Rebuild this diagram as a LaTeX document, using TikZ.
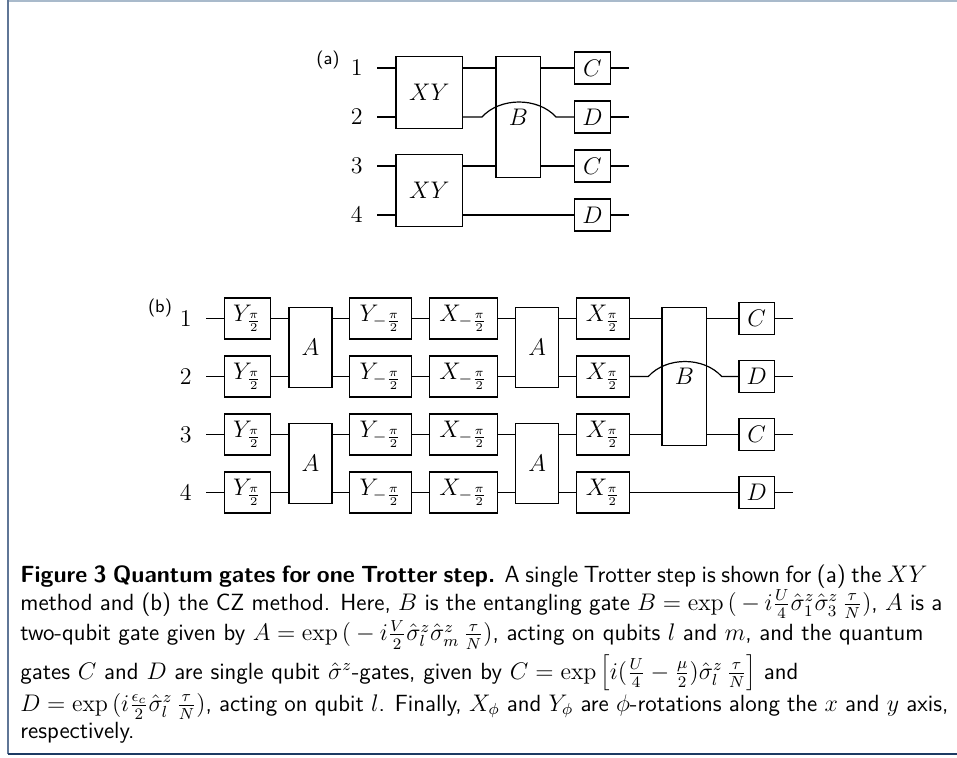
\documentclass[tikz,border=0pt]{standalone}

\definecolor{frametop}{HTML}{A9BACB}
\definecolor{frameleft}{HTML}{5F7696}
\definecolor{framebot}{HTML}{1C3A63}

\tikzset{
  wire/.style={line width=0.6pt},
  gate/.style={draw,line width=0.6pt,inner sep=0pt,font=\fontsize{12}{14}\selectfont},
  qlabel/.style={anchor=east,inner xsep=7pt,inner ysep=0pt,font=\fontsize{12}{14}\selectfont},
  tag/.style={font=\sffamily\small,inner sep=0pt},
  xygate/.style={gate,minimum width=33.3pt,minimum height=35.8pt},
  onegate/.style={gate,minimum width=17.7pt,minimum height=16pt},
  agate/.style={gate,minimum width=21.5pt,minimum height=40.2pt},
  rotgate/.style={gate,minimum height=20.5pt},
  capbox/.style={anchor=north west,align=left,inner sep=0pt,
    font=\sffamily\fontsize{11.7}{13.6}\selectfont},
}
% one caption line, set to the given width
\newcommand{\capline}[2]{\makebox[#1][s]{#2}}

\begin{document}
\begin{tikzpicture}[x=0.5pt,y=-0.5pt]
\useasboundingbox (0,0) rectangle (957,757);

% frame
\draw[frametop,line width=1pt] (8,0.5)--(957,0.5);
\draw[frameleft,line width=1pt] (8,0)--(8,754);
\draw[framebot,line width=1pt] (8,754)--(957,754);

% (a) XY method
\node[tag] (taga) at (328,60) {(a)};

\node[qlabel] (a1) at (377,68) {$1$};
\node[qlabel] (a2) at (377,117) {$2$};
\node[qlabel] (a3) at (377,166) {$3$};
\node[qlabel] (a4) at (377,215) {$4$};

\node[xygate] (xya) at (429.3,92.5) {$XY$};
\node[xygate] (xyb) at (429.3,190.5) {$XY$};
\node[gate,minimum width=22.3pt,minimum height=60.3pt] (ba) at (518.3,117) {$B$};

\node[onegate] (ca1) at (592.5,68) {$C$};
\node[onegate] (da2) at (592.5,117) {$D$};
\node[onegate] (ca3) at (592.5,166) {$C$};
\node[onegate] (da4) at (592.5,215) {$D$};

\coordinate (oa1) at (629,68);
\coordinate (oa2) at (629,117);
\coordinate (oa3) at (629,166);
\coordinate (oa4) at (629,215);
\coordinate (arcaL) at (482,117);
\coordinate (arcaR) at (556,117);

\draw[wire] (a1)--(xya.west|-a1);
\draw[wire] (xya.east|-a1)--(ba.west|-a1);
\draw[wire] (ba.east|-a1)--(ca1);
\draw[wire] (ca1)--(oa1);

\draw[wire] (a2)--(xya.west|-a2);
\draw[wire] (xya.east|-a2)--(arcaL) .. controls +(18,-20) and +(-18,-20) .. (arcaR)--(da2);
\draw[wire] (da2)--(oa2);

\draw[wire] (a3)--(xyb.west|-a3);
\draw[wire] (xyb.east|-a3)--(ba.west|-a3);
\draw[wire] (ba.east|-a3)--(ca3);
\draw[wire] (ca3)--(oa3);

\draw[wire] (a4)--(xyb.west|-a4);
\draw[wire] (xyb.east|-a4)--(da4);
\draw[wire] (da4)--(oa4);

% (b) CZ method
\node[tag] (tagb) at (160,308) {(b)};

\node[qlabel] (b1) at (206,318.5) {$1$};
\node[qlabel] (b2) at (206,376.5) {$2$};
\node[qlabel] (b3) at (206,434.5) {$3$};
\node[qlabel] (b4) at (206,492.5) {$4$};

\node[rotgate,minimum width=23.2pt] (yp1) at (247.5,318.5) {$Y_{\frac{\pi}{2}}$};
\node[rotgate,minimum width=23.2pt] (yp2) at (247.5,376.5) {$Y_{\frac{\pi}{2}}$};
\node[rotgate,minimum width=23.2pt] (yp3) at (247.5,434.5) {$Y_{\frac{\pi}{2}}$};
\node[rotgate,minimum width=23.2pt] (yp4) at (247.5,492.5) {$Y_{\frac{\pi}{2}}$};

\node[agate] (aa) at (310.5,347.5) {$A$};
\node[agate] (ab) at (310.5,463.5) {$A$};

\node[rotgate,minimum width=31.2pt] (ym1) at (380.5,318.5) {$Y_{-\frac{\pi}{2}}$};
\node[rotgate,minimum width=31.2pt] (ym2) at (380.5,376.5) {$Y_{-\frac{\pi}{2}}$};
\node[rotgate,minimum width=31.2pt] (ym3) at (380.5,434.5) {$Y_{-\frac{\pi}{2}}$};
\node[rotgate,minimum width=31.2pt] (ym4) at (380.5,492.5) {$Y_{-\frac{\pi}{2}}$};

\node[rotgate,minimum width=34pt] (xm1) at (463.3,318.5) {$X_{-\frac{\pi}{2}}$};
\node[rotgate,minimum width=34pt] (xm2) at (463.3,376.5) {$X_{-\frac{\pi}{2}}$};
\node[rotgate,minimum width=34pt] (xm3) at (463.3,434.5) {$X_{-\frac{\pi}{2}}$};
\node[rotgate,minimum width=34pt] (xm4) at (463.3,492.5) {$X_{-\frac{\pi}{2}}$};

\node[agate] (ac) at (537.2,347.5) {$A$};
\node[agate] (ad) at (537.2,463.5) {$A$};

\node[rotgate,minimum width=26.3pt] (xp1) at (603,318.5) {$X_{\frac{\pi}{2}}$};
\node[rotgate,minimum width=26.3pt] (xp2) at (603,376.5) {$X_{\frac{\pi}{2}}$};
\node[rotgate,minimum width=26.3pt] (xp3) at (603,434.5) {$X_{\frac{\pi}{2}}$};
\node[rotgate,minimum width=26.3pt] (xp4) at (603,492.5) {$X_{\frac{\pi}{2}}$};

\node[gate,minimum width=22.3pt,minimum height=69pt] (bb) at (684.3,376.5) {$B$};

\node[onegate] (cb1) at (756.7,318.5) {$C$};
\node[onegate] (db2) at (756.7,376.5) {$D$};
\node[onegate] (cb3) at (756.7,434.5) {$C$};
\node[onegate] (db4) at (756.7,492.5) {$D$};

\coordinate (ob1) at (793,318.5);
\coordinate (ob2) at (793,376.5);
\coordinate (ob3) at (793,434.5);
\coordinate (ob4) at (793,492.5);
\coordinate (arcbL) at (648.3,376.5);
\coordinate (arcbR) at (721.7,376.5);

\draw[wire] (b1)--(yp1); \draw[wire] (yp1)--(aa.west|-b1); \draw[wire] (aa.east|-b1)--(ym1);
\draw[wire] (ym1)--(xm1); \draw[wire] (xm1)--(ac.west|-b1); \draw[wire] (ac.east|-b1)--(xp1);
\draw[wire] (xp1)--(bb.west|-b1); \draw[wire] (bb.east|-b1)--(cb1); \draw[wire] (cb1)--(ob1);

\draw[wire] (b2)--(yp2); \draw[wire] (yp2)--(aa.west|-b2); \draw[wire] (aa.east|-b2)--(ym2);
\draw[wire] (ym2)--(xm2); \draw[wire] (xm2)--(ac.west|-b2); \draw[wire] (ac.east|-b2)--(xp2);
\draw[wire] (xp2)--(arcbL) .. controls +(18,-20) and +(-18,-20) .. (arcbR)--(db2);
\draw[wire] (db2)--(ob2);

\draw[wire] (b3)--(yp3); \draw[wire] (yp3)--(ab.west|-b3); \draw[wire] (ab.east|-b3)--(ym3);
\draw[wire] (ym3)--(xm3); \draw[wire] (xm3)--(ad.west|-b3); \draw[wire] (ad.east|-b3)--(xp3);
\draw[wire] (xp3)--(bb.west|-b3); \draw[wire] (bb.east|-b3)--(cb3); \draw[wire] (cb3)--(ob3);

\draw[wire] (b4)--(yp4); \draw[wire] (yp4)--(ab.west|-b4); \draw[wire] (ab.east|-b4)--(ym4);
\draw[wire] (ym4)--(xm4); \draw[wire] (xm4)--(ad.west|-b4); \draw[wire] (ad.east|-b4)--(xp4);
\draw[wire] (xp4)--(db4); \draw[wire] (db4)--(ob4);

% caption
\node[capbox] (cap) at (20,565) {%
\capline{453.5pt}{\textbf{Figure 3 Quantum gates for one Trotter step.} A single Trotter step is shown for (a) the $XY$}\\
\capline{461pt}{method and (b) the CZ method. Here, $B$ is the entangling gate $B=\exp\big(-i\frac{U}{4}\hat\sigma^z_1\hat\sigma^z_3\,\frac{\tau}{N}\big)$, $A$ is a}\\
\capline{451.5pt}{two-qubit gate given by $A=\exp\big(-i\frac{V}{2}\hat\sigma^z_l\hat\sigma^z_m\,\frac{\tau}{N}\big)$, acting on qubits $l$ and $m$, and the quantum}\\[2pt]
\capline{389pt}{gates $C$ and $D$ are single qubit $\hat\sigma^z$-gates, given by $C=\exp\Big[i\big(\frac{U}{4}-\frac{\mu}{2}\big)\hat\sigma^z_l\,\frac{\tau}{N}\Big]$ and}\\
\capline{464pt}{$D=\exp\big(i\frac{\epsilon_c}{2}\hat\sigma^z_l\,\frac{\tau}{N}\big)$, acting on qubit $l$. Finally, $X_\phi$ and $Y_\phi$ are $\phi$-rotations along the $x$ and $y$ axis,}\\
respectively.};

\end{tikzpicture}
\end{document}
